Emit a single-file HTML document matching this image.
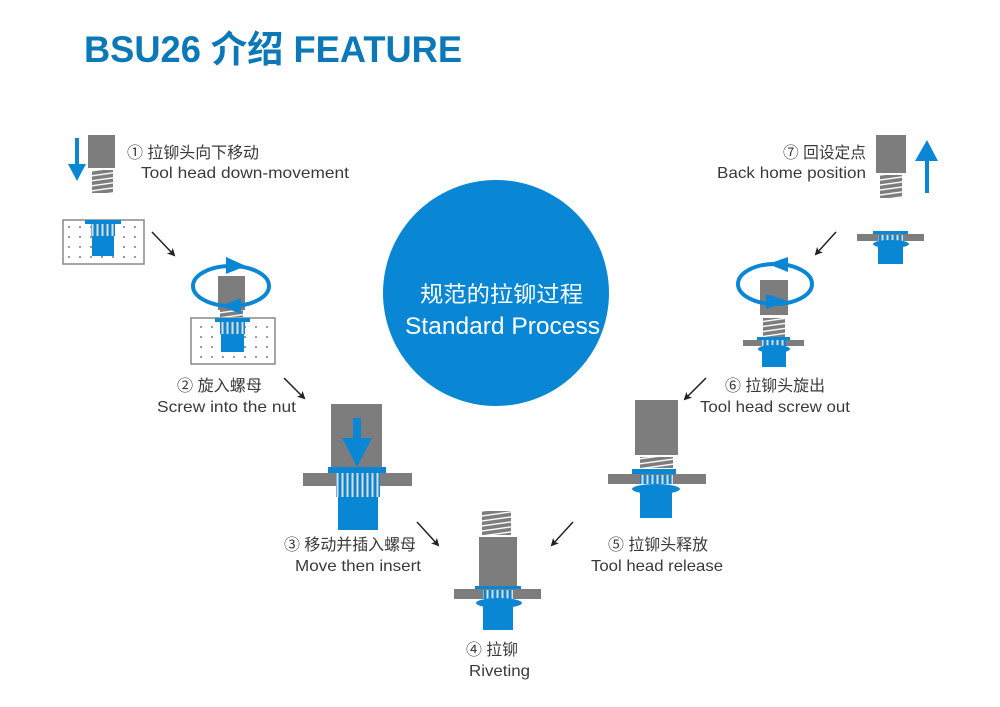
<!DOCTYPE html>
<html><head><meta charset="utf-8"><style>
html,body{margin:0;padding:0;background:#fff;}
svg{display:block;}
.t{font-family:"Liberation Sans","Noto Sans CJK SC",sans-serif;font-size:16px;fill:#3a3a3a;}
</style></head><body>
<svg width="1000" height="707" viewBox="0 0 1000 707" xmlns="http://www.w3.org/2000/svg">
<defs>
<pattern id="dots" width="11" height="10" patternUnits="userSpaceOnUse" x="66" y="224"><circle cx="3" cy="3" r="0.9" fill="#555"/></pattern>
<pattern id="thr" width="6" height="5" patternUnits="userSpaceOnUse" patternTransform="skewY(-8)"><rect width="6" height="5" fill="#7d7d7d"/><rect y="3" width="6" height="1.4" fill="#fff"/></pattern>
<pattern id="str" width="5" height="10" patternUnits="userSpaceOnUse"><rect width="5" height="10" fill="#0a87d4"/><rect x="1.5" width="2" height="10" fill="#ddd"/></pattern>
<marker id="ah" markerWidth="8" markerHeight="8" refX="6" refY="4" orient="auto" markerUnits="userSpaceOnUse"><path d="M0,0 L8,4 L0,8 L2,4 Z" fill="#222"/></marker>
</defs>

<text x="84" y="62" textLength="378" lengthAdjust="spacingAndGlyphs" style="font-family:'Liberation Sans','Noto Sans CJK SC',sans-serif;font-weight:bold;font-size:37px;fill:#0b78b8">BSU26 介绍 FEATURE</text>

<circle cx="496" cy="293" r="113" fill="#0a87d4"/>
<text x="420" y="302" textLength="163" lengthAdjust="spacingAndGlyphs" style="font-family:'Liberation Sans','Noto Sans CJK SC',sans-serif;font-size:22px;fill:#fff">规范的拉铆过程</text>
<text x="405" y="334" textLength="195" lengthAdjust="spacingAndGlyphs" style="font-family:'Liberation Sans','Noto Sans CJK SC',sans-serif;font-size:24px;fill:#fff">Standard Process</text>

<!-- Step 1 -->
<rect x="75" y="138" width="4" height="28" fill="#0a87d4"/>
<path d="M68,164 L86,164 L77,181 Z" fill="#0a87d4"/>
<rect x="88" y="135" width="27" height="33" fill="#7d7d7d"/>
<rect x="92" y="170" width="21" height="23" fill="url(#thr)"/>
<text class="t" x="127" y="158" textLength="132" lengthAdjust="spacingAndGlyphs">① 拉铆头向下移动</text>
<text class="t" x="141" y="178" textLength="208" lengthAdjust="spacingAndGlyphs">Tool head down-movement</text>
<rect x="63" y="220" width="81" height="44" fill="url(#dots)" stroke="#888" stroke-width="1.5"/>
<rect x="85" y="220" width="36" height="4" fill="#0a87d4"/>
<rect x="91" y="224" width="24" height="12" fill="url(#str)"/>
<rect x="92" y="236" width="22" height="20" fill="#0a87d4"/>
<line x1="152" y1="232" x2="174" y2="255" stroke="#222" stroke-width="1.5" marker-end="url(#ah)"/>

<!-- Step 2 -->
<rect x="191" y="318" width="84" height="46" fill="url(#dots)" stroke="#888" stroke-width="1.5"/>
<rect x="215" y="318" width="35" height="4" fill="#0a87d4"/>
<rect x="220" y="322" width="25" height="12" fill="url(#str)"/>
<rect x="221" y="334" width="23" height="18" fill="#0a87d4"/>
<rect x="218" y="276" width="27" height="34" fill="#7d7d7d"/>
<rect x="220" y="310" width="23" height="7" fill="url(#thr)"/>
<ellipse cx="231" cy="286" rx="38" ry="20" fill="none" stroke="#0a87d4" stroke-width="4"/>
<path d="M226,257 L246,266 L226,274 Z" fill="#0a87d4"/>
<path d="M241,298 L221,306 L241,314 Z" fill="#0a87d4"/>
<text class="t" x="177" y="391" textLength="85" lengthAdjust="spacingAndGlyphs">② 旋入螺母</text>
<text class="t" x="157" y="412" textLength="139" lengthAdjust="spacingAndGlyphs">Screw into the nut</text>
<line x1="284" y1="378" x2="304" y2="398" stroke="#222" stroke-width="1.5" marker-end="url(#ah)"/>

<!-- Step 3 -->
<rect x="331" y="404" width="51" height="63" fill="#7d7d7d"/>
<rect x="353" y="418" width="8" height="22" fill="#0a87d4"/>
<path d="M342,438 L372,438 L357,467 Z" fill="#0a87d4"/>
<rect x="303" y="473" width="109" height="13" fill="#7d7d7d"/>
<rect x="328" y="467" width="58" height="6" fill="#0a87d4"/>
<rect x="336" y="473" width="44" height="24" fill="url(#str)"/>
<rect x="338" y="497" width="40" height="33" fill="#0a87d4"/>
<text class="t" x="284" y="550" textLength="132" lengthAdjust="spacingAndGlyphs">③ 移动并插入螺母</text>
<text class="t" x="295" y="571" textLength="126" lengthAdjust="spacingAndGlyphs">Move then insert</text>
<line x1="417" y1="522" x2="438" y2="545" stroke="#222" stroke-width="1.5" marker-end="url(#ah)"/>

<!-- Step 4 -->
<rect x="482" y="511" width="29" height="24" fill="url(#thr)"/>
<rect x="479" y="537" width="38" height="52" fill="#7d7d7d"/>
<rect x="475" y="586" width="46" height="6" fill="#0a87d4"/>
<rect x="454" y="589" width="87" height="10" fill="#7d7d7d"/>
<rect x="483" y="590" width="30" height="9" fill="url(#str)"/>
<ellipse cx="499" cy="603" rx="23" ry="5" fill="#0a87d4"/>
<rect x="483" y="603" width="30" height="27" fill="#0a87d4"/>
<text class="t" x="466" y="655" textLength="52" lengthAdjust="spacingAndGlyphs">④ 拉铆</text>
<text class="t" x="469" y="676" textLength="61" lengthAdjust="spacingAndGlyphs">Riveting</text>
<line x1="573" y1="522" x2="552" y2="545" stroke="#222" stroke-width="1.5" marker-end="url(#ah)"/>

<!-- Step 5 -->
<rect x="635" y="400" width="43" height="55" fill="#7d7d7d"/>
<rect x="640" y="457" width="33" height="11" fill="url(#thr)"/>
<rect x="632" y="469" width="44" height="6" fill="#0a87d4"/>
<rect x="608" y="474" width="98" height="10" fill="#7d7d7d"/>
<rect x="640" y="475" width="33" height="9" fill="url(#str)"/>
<ellipse cx="656" cy="489" rx="24" ry="5" fill="#0a87d4"/>
<rect x="640" y="489" width="32" height="29" fill="#0a87d4"/>
<text class="t" x="608" y="550" textLength="100" lengthAdjust="spacingAndGlyphs">⑤ 拉铆头释放</text>
<text class="t" x="591" y="571" textLength="132" lengthAdjust="spacingAndGlyphs">Tool head release</text>
<line x1="706" y1="378" x2="685" y2="399" stroke="#222" stroke-width="1.5" marker-end="url(#ah)"/>

<!-- Step 6 -->
<rect x="760" y="280" width="28" height="35" fill="#7d7d7d"/>
<ellipse cx="775" cy="284" rx="37" ry="20" fill="none" stroke="#0a87d4" stroke-width="4"/>
<path d="M788,257 L768,264 L788,272 Z" fill="#0a87d4"/>
<path d="M766,294 L788,301 L766,309 Z" fill="#0a87d4"/>
<rect x="763" y="318" width="22" height="19" fill="url(#thr)"/>
<rect x="757" y="337" width="33" height="4" fill="#0a87d4"/>
<rect x="743" y="340" width="61" height="6" fill="#7d7d7d"/>
<rect x="762" y="340" width="24" height="6" fill="url(#str)"/>
<ellipse cx="774" cy="349" rx="16" ry="4" fill="#0a87d4"/>
<rect x="762" y="349" width="24" height="18" fill="#0a87d4"/>
<text class="t" x="725" y="391" textLength="100" lengthAdjust="spacingAndGlyphs">⑥ 拉铆头旋出</text>
<text class="t" x="700" y="412" textLength="150" lengthAdjust="spacingAndGlyphs">Tool head screw out</text>
<line x1="836" y1="232" x2="816" y2="254" stroke="#222" stroke-width="1.5" marker-end="url(#ah)"/>

<!-- Step 7 -->
<rect x="876" y="135" width="30" height="38" fill="#7d7d7d"/>
<rect x="880" y="175" width="22" height="23" fill="url(#thr)"/>
<rect x="925" y="158" width="4" height="35" fill="#0a87d4"/>
<path d="M915,161 L938,161 L927,140 Z" fill="#0a87d4"/>
<text class="t" x="783" y="158" textLength="83" lengthAdjust="spacingAndGlyphs">⑦ 回设定点</text>
<text class="t" x="717" y="178" textLength="149" lengthAdjust="spacingAndGlyphs">Back home position</text>
<rect x="873" y="231" width="35" height="5" fill="#0a87d4"/>
<rect x="857" y="234" width="67" height="7" fill="#7d7d7d"/>
<rect x="878" y="235" width="25" height="6" fill="url(#str)"/>
<ellipse cx="891" cy="244" rx="18" ry="4" fill="#0a87d4"/>
<rect x="878" y="244" width="25" height="20" fill="#0a87d4"/>
</svg>
</body></html>
